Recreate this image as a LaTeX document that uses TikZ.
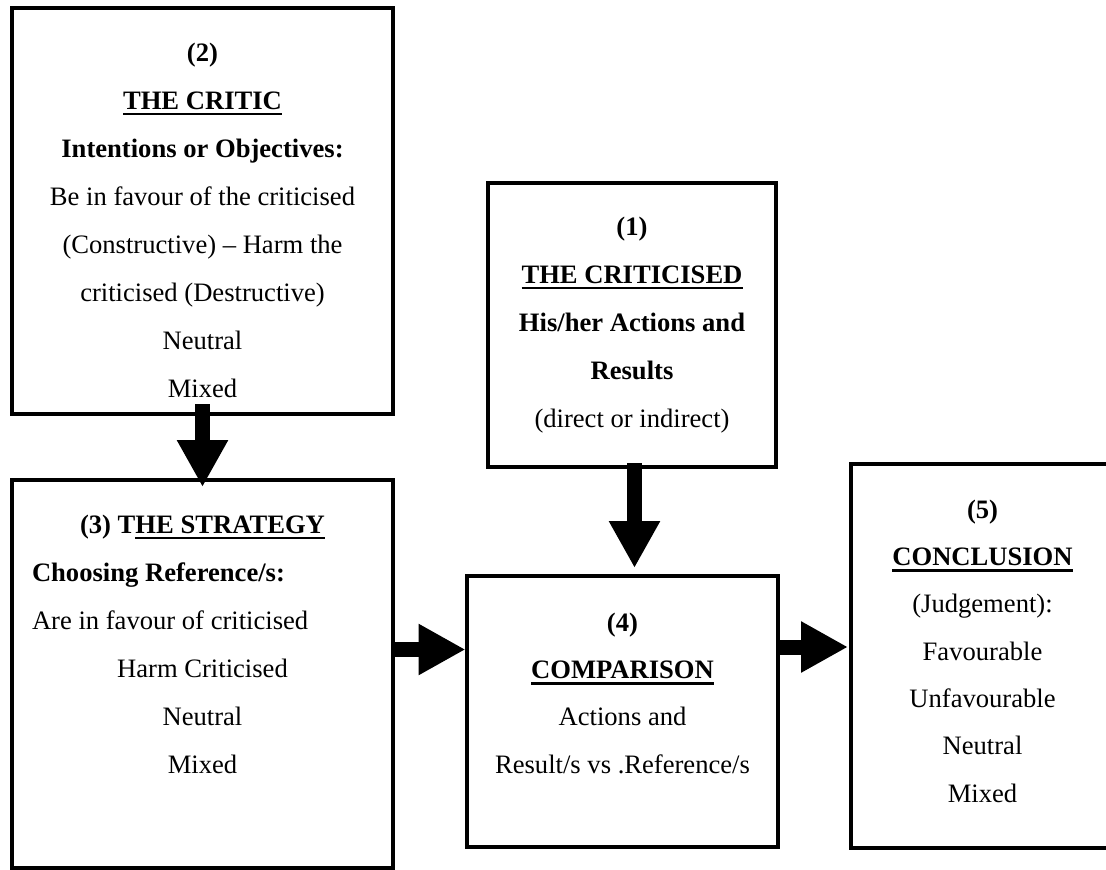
\documentclass[tikz,border=0pt]{standalone}
\usepackage{fontspec}
\setmainfont{Liberation Serif}
\usetikzlibrary{arrows.meta}
\newcommand{\myul}[1]{\leavevmode\sbox0{#1}\rlap{\rule[-6pt]{\wd0}{2.2pt}}\usebox0}
\begin{document}
\begin{tikzpicture}[x=1pt,y=-1pt,
  box/.style={draw, line width=3.5pt, inner sep=0pt, outer sep=0pt, rectangle},
  txt/.style={anchor=north, inner sep=0pt, align=center, font=\fontsize{26.6}{48}\selectfont},
  txtb/.style={anchor=north, inner sep=0pt, align=center, font=\fontsize{26.6}{47.3}\selectfont},
  bigarrow/.style={line width=15pt, -{Triangle[length=47pt,width=48pt]}}]
\useasboundingbox (0,0) rectangle (1106,870);
\clip (0,0) rectangle (1106,870);

\node[box, minimum width=381pt, minimum height=406pt] (b2) at (202.5,211) {};
\node[box, minimum width=381pt, minimum height=388pt] (b3) at (202.5,674) {};
\node[box, minimum width=288pt, minimum height=284pt] (b1) at (632,325) {};
\node[box, minimum width=311pt, minimum height=271pt] (b4) at (622.5,711.5) {};
\node[box, minimum width=264pt, minimum height=384pt] (b5) at (983,656) {};

\node[txt] (t2) at ([yshift=-33pt]b2.north) {\rule{0pt}{20pt}\textbf{(2)}\\ \textbf{\myul{THE CRITIC}}\\ \textbf{Intentions or Objectives:}\\ Be in favour of the criticised\\ (Constructive) – Harm the\\ criticised (Destructive)\\ Neutral\\ Mixed};

\node[txt] (t1) at ([yshift=-32pt]b1.north) {\rule{0pt}{20pt}\textbf{(1)}\\ \textbf{\myul{THE CRITICISED}}\\ \textbf{His/her Actions and}\\ \textbf{Results}\\ (direct or indirect)};

\node[txt] (t3) at ([yshift=-33pt]b3.north) {\rule{0pt}{20pt}\textbf{(3) T\myul{HE STRATEGY}}\\ \makebox[341pt][l]{\textbf{Choosing Reference/s:}}\\ \makebox[341pt][l]{Are in favour of criticised}\\ Harm Criticised\\ Neutral\\ Mixed};

\node[txtb] (t4) at ([yshift=-35pt]b4.north) {\rule{0pt}{20pt}\textbf{(4)}\\ \textbf{\myul{COMPARISON}}\\ Actions and\\ Result/s vs .Reference/s};

\node[txtb] (t5) at ([xshift=-0.5pt,yshift=-34pt]b5.north) {\rule{0pt}{20pt}\textbf{(5)}\\ \textbf{\myul{CONCLUSION}}\\ (Judgement):\\ Favourable\\ Unfavourable\\ Neutral\\ Mixed};

\draw[bigarrow] ([yshift=10pt]b2.south) -- ([yshift=-7pt]b3.north);
\draw[bigarrow] ([xshift=2.5pt,yshift=4pt]b1.south) -- ([xshift=12pt,yshift=8pt]b4.north);
\coordinate (t34) at ([xshift=-1.5pt,yshift=62pt]b4.west);
\draw[bigarrow] (b3.east |- t34) -- (t34);
\coordinate (t45) at ([xshift=-3pt,yshift=9pt]b5.west);
\draw[bigarrow] (b4.east |- t45) -- (t45);
\end{tikzpicture}
\end{document}
